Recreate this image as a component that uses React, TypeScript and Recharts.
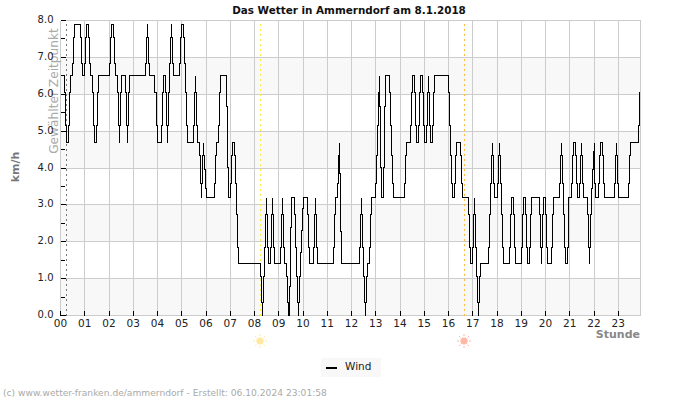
import React from 'react';
import {
  CartesianGrid,
  ComposedChart,
  Legend,
  Line,
  ReferenceLine,
  XAxis,
  YAxis,
} from 'recharts';

// Wind changes as [sample, km/h]; a repeated sample is a one-reading spike.
const windNight: [number, number][] = [
  [0, 6.5], [4, 6.05], [5, 5.14], [6, 4.69], [8, 5.14], [9, 6.05], [10, 6.5], [12, 6.84], [13, 7.54], [14, 7.9],
  [20, 7.54], [21, 6.84], [22, 6.5], [24, 6.84], [25, 7.54], [26, 7.9], [28, 7.54], [29, 6.84], [30, 6.5],
  [32, 6.05], [33, 5.14], [34, 4.69], [36, 5.14], [37, 6.05], [38, 6.5], [49, 6.84], [50, 7.54], [51, 7.9],
  [53, 7.54], [54, 6.84], [55, 6.5], [57, 6.05], [58, 5.14], [59, 4.69], [59, 5.14], [60, 6.05], [61, 6.5],
  [65, 6.05], [66, 5.14], [67, 4.69], [67, 5.14], [68, 6.05], [69, 6.5], [85, 6.84], [86, 7.54], [87, 7.9],
  [87, 7.54], [88, 6.84], [89, 6.5], [94, 6.05], [96, 5.14], [97, 4.69],
];
const windEarlyMorning: [number, number][] = [
  [101, 5.14], [102, 6.05], [103, 6.5], [105, 6.05], [106, 5.14], [107, 4.69], [107, 5.14], [108, 6.05], [109, 6.84],
  [110, 7.54], [111, 7.9], [111, 7.54], [112, 6.84], [113, 6.5], [119, 6.84], [120, 7.54], [121, 7.9], [123, 7.54],
  [124, 6.84], [125, 6.05], [126, 5.14], [127, 4.69], [133, 5.14], [134, 6.05], [135, 6.5], [135, 6.05], [136, 5.14],
  [137, 4.69], [139, 4.33], [140, 3.57], [141, 3.19], [141, 3.57], [142, 4.33], [143, 4.69], [143, 4.33], [144, 3.95],
  [145, 3.45], [146, 3.19], [154, 3.57], [155, 4.33], [156, 4.69], [158, 5.14], [159, 6.05], [160, 6.5], [166, 5.67],
  [167, 4.02], [168, 3.19], [170, 3.57], [171, 4.33], [172, 4.69], [174, 4.33], [175, 3.57], [176, 2.74], [177, 1.85],
  [178, 1.4],
];
const windMorning: [number, number][] = [
  [200, 1.07], [201, 0.35], [202, 0], [202, 0.35], [203, 1.07], [204, 1.85], [205, 2.74], [206, 3.19], [206, 2.74],
  [207, 1.85], [208, 1.4], [210, 1.85], [211, 2.74], [212, 3.19], [212, 2.74], [213, 1.85], [214, 1.4], [220, 1.85],
  [221, 2.74], [222, 3.19], [222, 2.74], [223, 1.85], [224, 1.4], [226, 1.07], [227, 0.35], [228, 0], [229, 0.78],
  [230, 2.38], [231, 3.19], [234, 2.74], [235, 1.85], [236, 1.07], [237, 0.35], [238, 0], [238, 0.35], [239, 1.07],
  [240, 1.71], [241, 2.31], [242, 2.9], [243, 3.19], [247, 2.74], [248, 1.85], [249, 1.4], [253, 1.85], [254, 2.74],
  [255, 3.19], [255, 2.74], [256, 1.85], [257, 1.4], [273, 1.85], [274, 2.74], [275, 3.19], [277, 3.57], [278, 4.33],
  [279, 4.69], [279, 3.86], [280, 2.27], [281, 1.4],
];
const windMidday: [number, number][] = [
  [299, 1.85], [300, 2.74], [301, 3.19], [301, 2.74], [302, 1.85], [303, 1.07], [304, 0.35], [305, 0], [305, 0.35],
  [306, 1.07], [307, 1.4], [309, 1.85], [310, 2.74], [311, 3.19], [315, 3.57], [316, 4.33], [317, 5.14], [318, 6.05],
  [319, 6.5], [319, 5.67], [320, 4.02], [321, 3.19], [323, 4.02], [324, 5.67], [325, 6.5], [329, 6.05], [330, 5.14],
  [331, 4.33], [332, 3.57], [333, 3.19], [344, 3.57], [345, 4.33], [346, 4.69], [350, 5.14], [351, 6.05], [352, 6.5],
  [354, 6.05], [355, 5.14], [356, 4.69], [358, 5.14], [359, 6.05], [360, 6.5], [362, 6.05], [363, 5.14], [364, 4.69],
  [366, 5.14], [367, 6.05], [368, 6.5], [368, 6.05], [369, 5.14], [370, 4.69], [372, 5.14], [373, 6.05], [374, 6.5],
];
const windAfternoon: [number, number][] = [
  [388, 6.05], [389, 5.14], [390, 4.33], [391, 3.57], [392, 3.19], [394, 3.57], [395, 4.33], [396, 4.69], [400, 4.33],
  [401, 3.57], [402, 3.19], [408, 2.74], [409, 1.85], [410, 1.4], [412, 1.85], [413, 2.74], [414, 3.19], [414, 2.74],
  [415, 1.85], [416, 1.07], [417, 0.35], [418, 0], [418, 0.35], [419, 1.07], [420, 1.4], [428, 1.85], [429, 2.74],
  [430, 3.57], [431, 4.33], [432, 4.69], [432, 4.33], [433, 3.57], [434, 3.19], [437, 3.57], [438, 4.33], [439, 4.69],
  [439, 4.33], [440, 3.57], [441, 2.74], [442, 1.85], [443, 1.4], [449, 1.85], [450, 2.74], [451, 3.19], [453, 2.74],
  [454, 1.85], [455, 1.4], [461, 1.85], [462, 2.74], [463, 3.19], [465, 2.74], [466, 1.85], [467, 1.4], [469, 1.85],
  [470, 2.74], [471, 3.19], [479, 2.74], [480, 1.85], [481, 1.4], [481, 1.85], [482, 2.74], [483, 3.19], [485, 2.74],
];
const windEvening: [number, number][] = [
  [486, 1.85], [487, 1.4], [491, 1.85], [492, 2.74], [493, 3.19], [499, 3.57], [500, 4.33], [501, 4.69], [501, 4.33],
  [502, 3.57], [503, 2.74], [504, 1.85], [505, 1.4], [507, 1.85], [508, 3.19], [511, 3.57], [512, 4.33], [513, 4.69],
  [515, 4.33], [516, 3.57], [517, 3.19], [519, 3.57], [520, 4.33], [521, 4.69], [521, 4.33], [522, 3.57], [523, 3.19],
  [527, 2.74], [528, 1.85], [529, 1.4], [529, 1.85], [530, 2.74], [531, 3.45], [532, 3.95], [533, 4.44], [534, 4.69],
  [534, 3.57], [535, 3.19], [538, 3.57], [539, 4.33], [540, 4.69], [542, 4.33], [543, 3.57], [544, 3.19], [554, 3.57],
  [555, 4.33], [556, 4.69], [556, 4.33], [557, 3.57], [558, 3.19], [568, 3.57], [569, 4.33], [570, 4.69], [578, 5.14],
  [579, 6.05],
];

const SAMPLES_PER_HOUR = 24.25;
const LAST_HOUR = 580 / SAMPLES_PER_HOUR;

const hourTicks = Array.from({ length: 24 }, (_, h) => h);
const wholeKmh = [0, 1, 2, 3, 4, 5, 6, 7, 8];
const kmhTicks = [0, 0.5, 1, 1.5, 2, 2.5, 3, 3.5, 4, 4.5, 5, 5.5, 6, 6.5, 7, 7.5, 8];

// Row fills from the top of the svg down; the first covers the strip above the plot.
const BAND = '#f8f8f8';
const PLAIN = '#ffffff';
const rowFills = [PLAIN, PLAIN, BAND, PLAIN, BAND, PLAIN, BAND, PLAIN, BAND];

const selectedHour = 6 / SAMPLES_PER_HOUR;
const sunriseHour = 200 / SAMPLES_PER_HOUR;
const sunsetHour = 404 / SAMPLES_PER_HOUR;

const rows = [windNight, windEarlyMorning, windMorning, windMidday, windAfternoon, windEvening]
  .flat()
  .map(([sample, wind]) => ({ hour: sample / SAMPLES_PER_HOUR, wind }));

const FONT = '"DejaVu Sans", sans-serif';

function HourTick({ x, y, payload }: any) {
  return (
    <g>
      <line x1={x} x2={x} y1={y} y2={y - 5} stroke="#000" shapeRendering="crispEdges" />
      <text x={x} y={y + 11.5} textAnchor="middle" fontSize={10.5} fontFamily={FONT} fill="#222">
        {String(payload.value).padStart(2, '0')}
      </text>
    </g>
  );
}

function KmhTick({ x, y, payload }: any) {
  const whole = Number.isInteger(payload.value);
  return (
    <g>
      <line x1={x} x2={x + (whole ? 5 : 4)} y1={y} y2={y} stroke="#000" shapeRendering="crispEdges" />
      {whole && (
        <text x={x - 7} y={y + 2.5} textAnchor="end" fontSize={10} fontFamily={FONT} fill="#222">
          {payload.value.toFixed(1)}
        </text>
      )}
    </g>
  );
}

function Sun({ cx, cy, color }: { cx: number; cy: number; color: string }) {
  const rays = [0, 45, 90, 135, 180, 225, 270, 315];
  return (
    <g>
      {rays.map((a) => {
        const t = (a * Math.PI) / 180;
        return (
          <line
            key={a}
            x1={cx + 5 * Math.cos(t)}
            y1={cy + 5 * Math.sin(t)}
            x2={cx + 7 * Math.cos(t)}
            y2={cy + 7 * Math.sin(t)}
            stroke={color}
            strokeWidth={1}
          />
        );
      })}
      <circle cx={cx} cy={cy} r={3.6} fill={color} />
    </g>
  );
}

function SelectedLabel({ viewBox }: any) {
  const x = viewBox.x - 9;
  const y = 91;
  return (
    <text
      x={x}
      y={y}
      transform={`rotate(-90 ${x} ${y})`}
      textAnchor="middle"
      fontSize={12.2}
      fontFamily={FONT}
      fill="#aaa"
    >
      Gewählter Zeitpunkt
    </text>
  );
}

const sunLabel = (color: string) => ({ viewBox }: any) => (
  <Sun cx={viewBox.x - 0.5} cy={viewBox.y + viewBox.height + 25.5} color={color} />
);

const UnitLabel = () => (
  <text
    x={19}
    y={167}
    transform="rotate(-90 19 167)"
    textAnchor="middle"
    fontSize={11}
    fontWeight="bold"
    fontFamily={FONT}
    fill="#777"
  >
    km/h
  </text>
);

const StundeLabel = () => (
  <text x={640} y={337.5} textAnchor="end" fontSize={11} fontWeight="bold" fontFamily={FONT} fill="#888">
    Stunde
  </text>
);

function WindLegend() {
  return (
    <div
      style={{
        width: 60,
        height: 19,
        background: '#f8f8f8',
        position: 'relative',
        fontFamily: FONT,
        fontSize: 10.5,
        color: '#222',
      }}
    >
      <div style={{ position: 'absolute', left: 5, top: 9, width: 11, height: 2, background: '#000' }} />
      <div style={{ position: 'absolute', left: 24, top: 2, lineHeight: '13px' }}>Wind</div>
    </div>
  );
}

export default function App() {
  return (
    <div style={{ position: 'absolute', left: 0, top: 0, width: 700, height: 400, background: '#fff', fontFamily: FONT }}>
      <ComposedChart
        width={700}
        height={400}
        data={rows}
        margin={{ top: 20.5, right: 59.5, bottom: 0, left: 0 }}
      >
        <CartesianGrid
          stroke="#ccc"
          horizontalValues={wholeKmh}
          verticalValues={hourTicks}
          horizontalFill={rowFills}
          shapeRendering="crispEdges"
        />
        <XAxis
          type="number"
          dataKey="hour"
          domain={[0, LAST_HOUR]}
          ticks={hourTicks}
          interval={0}
          height={84.5}
          axisLine={false}
          tickLine={false}
          tickSize={0}
          tickMargin={0}
          tick={HourTick}
          label={{ content: StundeLabel }}
        />
        <YAxis
          type="number"
          domain={[0, 8]}
          ticks={kmhTicks}
          interval={0}
          width={60.5}
          axisLine={false}
          tickLine={false}
          tickSize={0}
          tickMargin={0}
          tick={KmhTick}
          label={{ content: UnitLabel }}
        />
        <ReferenceLine x={LAST_HOUR} stroke="#ccc" shapeRendering="crispEdges" />
        <ReferenceLine
          x={selectedHour}
          stroke="#777"
          strokeDasharray="2 3"
          shapeRendering="crispEdges"
          label={{ content: SelectedLabel }}
        />
        <ReferenceLine
          x={sunriseHour}
          stroke="#ffee44"
          strokeDasharray="2 3"
          shapeRendering="crispEdges"
          label={{ content: sunLabel('#ffe9a0') }}
        />
        <ReferenceLine
          x={sunsetHour}
          stroke="#ffbb44"
          strokeDasharray="2 3"
          shapeRendering="crispEdges"
          label={{ content: sunLabel('#ffb8a4') }}
        />
        <Line
          type="stepAfter"
          dataKey="wind"
          name="Wind"
          stroke="#000"
          strokeWidth={1}
          shapeRendering="crispEdges"
          dot={false}
          activeDot={false}
          isAnimationActive={false}
          legendType="line"
        />
        <Legend
          layout="horizontal"
          align="center"
          verticalAlign="middle"
          content={WindLegend}
          wrapperStyle={{ position: 'absolute', left: 321, top: 358, width: 60, height: 19 }}
        />
      </ComposedChart>
      <div
        style={{
          position: 'absolute',
          left: 0,
          width: 698,
          top: 2.5,
          textAlign: 'center',
          fontSize: 10.4,
          fontWeight: 'bold',
          color: '#111',
          lineHeight: '14px',
        }}
      >
        Das Wetter in Ammerndorf am 8.1.2018
      </div>
      <div
        style={{
          position: 'absolute',
          left: 3,
          top: 387,
          fontSize: 9.15,
          color: '#aaa',
          lineHeight: '12px',
          whiteSpace: 'nowrap',
        }}
      >
        (c) www.wetter-franken.de/ammerndorf - Erstellt: 06.10.2024 23:01:58
      </div>
    </div>
  );
}
